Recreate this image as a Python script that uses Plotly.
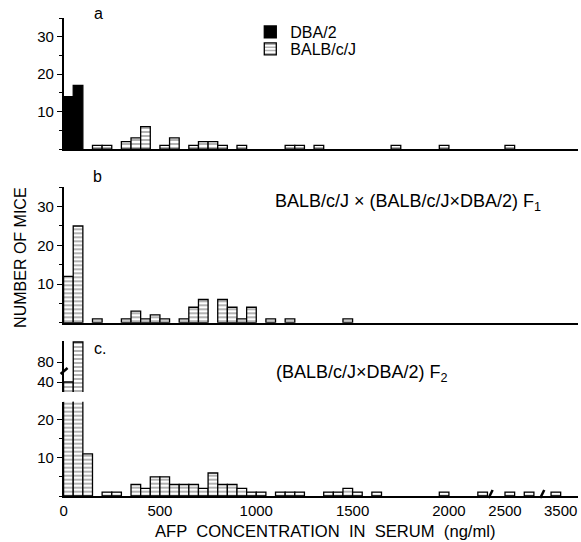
import plotly.graph_objects as go

# ---------------- data ----------------
BIN_WIDTH = 50  # ng/ml per histogram class

# panel a
dba_bins = [0, 50]
dba_counts = [14, 17]
balb_bins = [150, 200, 300, 350, 400, 500, 550, 650, 700, 750, 800, 900,
             1150, 1200, 1300, 1700, 1950, 2500]
balb_counts = [1, 1, 2, 3, 6, 1, 3, 1, 2, 2, 1, 1, 1, 1, 1, 1, 1, 1]

# panel b : BALB/c/J x (BALB/c/J x DBA/2) F1
bc_bins = [0, 50, 150, 300, 350, 400, 450, 500, 600, 650, 700, 800, 850,
           900, 950, 1050, 1150, 1450]
bc_counts = [12, 25, 1, 1, 3, 1, 2, 1, 1, 4, 6, 6, 4, 1, 4, 1, 1, 1]

# panel c : (BALB/c/J x DBA/2) F2
f2_bins = [0, 50, 100, 200, 250, 350, 400, 450, 500, 550, 600, 650, 700,
           750, 800, 850, 900, 950, 1000, 1100, 1150, 1200, 1350, 1400,
           1450, 1500, 1600, 1950, 2150, 2500, 2600, 3450]
f2_counts = [40, 120, 11, 1, 1, 3, 2, 5, 5, 3, 3, 3, 2, 6, 3, 3, 2, 1, 1,
             1, 1, 1, 1, 1, 2, 1, 1, 1, 1, 1, 1, 1]

x_tick_values = [0, 500, 1000, 1500, 2000, 2500, 3500]
x_tick_labels = ["0", "500", "1000", "1500", "2000", "2500", "3500"]

# broken concentration axis: values above a threshold are shifted left
AXIS_BREAKS = [(3400, 920), (2400, 209)]


def axis_pos(v):
    for thr, off in AXIS_BREAKS:
        if v >= thr:
            return v - off
    return v


def centers(bins):
    return [axis_pos(b) + BIN_WIDTH / 2 for b in bins]


# ---------------- figure ----------------
W, H = 581, 542
FONT = "Liberation Sans, Arial, sans-serif"


def fx(p):
    return p / W


def fy(p):
    return 1 - p / H


hatch = dict(shape="-", size=4, solidity=0.3, fgcolor="black", bgcolor="white")
outline = dict(color="black", width=1.3)

fig = go.Figure()
fig.add_bar(x=centers(dba_bins), y=dba_counts, width=BIN_WIDTH, name="DBA/2",
            marker=dict(color="black", line=outline), xaxis="x", yaxis="y",
            legend="legend")
fig.add_bar(x=centers(balb_bins), y=balb_counts, width=BIN_WIDTH, name="BALB/c/J",
            marker=dict(color="white", pattern=hatch, line=outline),
            xaxis="x", yaxis="y", legend="legend2")
fig.add_bar(x=centers(bc_bins), y=bc_counts, width=BIN_WIDTH, showlegend=False,
            marker=dict(color="white", pattern=hatch, line=outline),
            xaxis="x2", yaxis="y2")
fig.add_bar(x=centers(f2_bins), y=f2_counts, width=BIN_WIDTH, showlegend=False,
            marker=dict(color="white", pattern=hatch, line=outline),
            xaxis="x3", yaxis="y3")
fig.add_bar(x=centers(f2_bins), y=f2_counts, width=BIN_WIDTH, showlegend=False,
            marker=dict(color="white", pattern=hatch, line=outline),
            xaxis="x4", yaxis="y4")

XDOM = [fx(60), fx(578)]
XRANGE = [0, 2670]
tickfont = dict(family=FONT, size=15, color="black")

base_x = dict(domain=XDOM, range=XRANGE, showline=True, linecolor="black",
              linewidth=1.5, showgrid=False, zeroline=False, ticks="",
              showticklabels=False, fixedrange=True)
base_y = dict(showline=True, linecolor="black", linewidth=1.5, showgrid=False,
              zeroline=False, ticks="outside", ticklen=5, tickwidth=1.2,
              tickcolor="black", tickfont=tickfont, fixedrange=True,
              minor=dict(dtick=5, ticks="outside", ticklen=3, tickcolor="black"))

legend_style = dict(xanchor="left", yanchor="top",
                    font=dict(family=FONT, size=16, color="black"),
                    bgcolor="rgba(0,0,0,0)")

fig.update_layout(
    width=W, height=H,
    margin=dict(l=0, r=0, t=0, b=0),
    paper_bgcolor="white", plot_bgcolor="white",
    barmode="overlay",
    font=dict(family=FONT, color="black"),
    xaxis=dict(base_x, anchor="y"),
    yaxis=dict(base_y, anchor="x", domain=[fy(149.2), fy(18)], range=[0, 35],
               tickvals=[10, 20, 30]),
    xaxis2=dict(base_x, anchor="y2"),
    yaxis2=dict(base_y, anchor="x2", domain=[fy(322.7), fy(187.3)], range=[0, 35],
                tickvals=[10, 20, 30]),
    xaxis3=dict(base_x, anchor="y3", showticklabels=True, ticks="",
                tickfont=tickfont,
                tickvals=[axis_pos(v) for v in x_tick_values],
                ticktext=x_tick_labels),
    yaxis3=dict(base_y, anchor="x3", domain=[fy(496), fy(401.7)], range=[0, 24.6],
                tickvals=[10, 20]),
    xaxis4=dict(domain=[fx(60), fx(81)], range=[0, 108], anchor="y4",
                visible=False, fixedrange=True),
    yaxis4=dict(base_y, anchor="x4", domain=[fy(392), fy(341)], range=[20, 122],
                tickvals=[40, 80], minor=None),
    legend=dict(legend_style, x=fx(248), y=fy(15)),
    legend2=dict(legend_style, x=fx(248), y=fy(32)),
)


def label(text, x, y, size=16, xanchor="center", angle=0):
    fig.add_annotation(text=text, x=fx(x), y=fy(y), xref="paper", yref="paper",
                       showarrow=False, xanchor=xanchor, yanchor="middle",
                       textangle=angle,
                       font=dict(family=FONT, size=size, color="black"))


label("a", 95, 13)
label("b", 94, 176)
label("c.", 97, 348)
label("BALB/c/J × (BALB/c/J×DBA/2) F<sub>1</sub>", 271, 202, size=18, xanchor="left")
label("(BALB/c/J×DBA/2) F<sub>2</sub>", 272, 373, size=18, xanchor="left")
label("AFP  CONCENTRATION  IN  SERUM  (ng/ml)", 324, 531, size=16.6)
label("NUMBER OF MICE", 16, 258, size=16, angle=-90)

# axis-break marks
for bx in (490, 542):
    fig.add_shape(type="line", xref="paper", yref="paper",
                  x0=fx(bx - 2), y0=fy(498), x1=fx(bx + 2), y1=fy(490),
                  line=dict(color="black", width=2.5))
fig.add_shape(type="line", xref="paper", yref="paper",
              x0=fx(57), y0=fy(374), x1=fx(64), y1=fy(368),
              line=dict(color="black", width=2.5))

fig.write_html("out.html", config={"displayModeBar": False},
               post_script="document.body.style.margin='0';")
